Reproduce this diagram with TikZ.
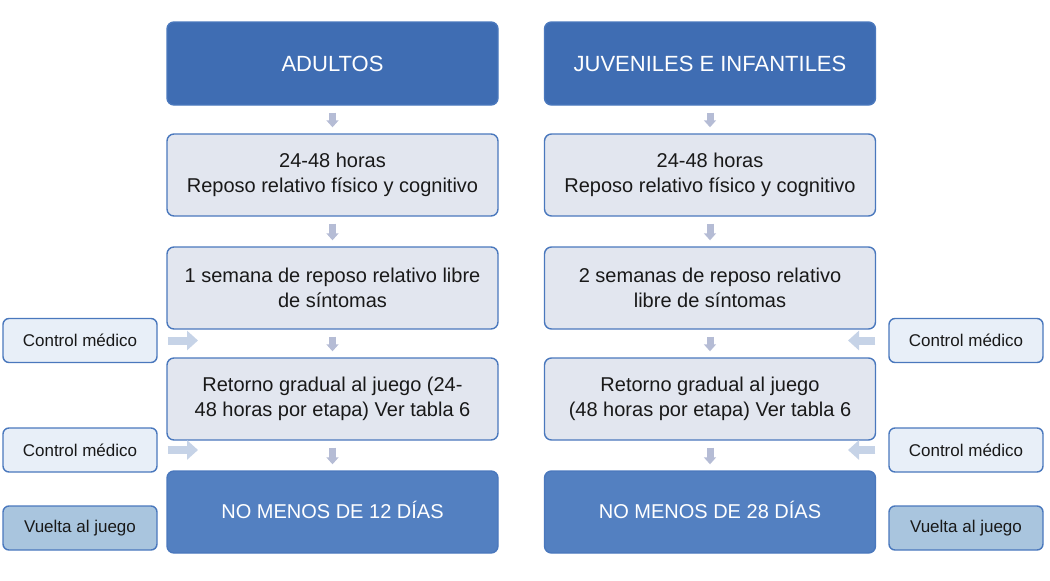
\documentclass[tikz,border=0pt]{standalone}
\usepackage{fontspec}
\setmainfont{Liberation Sans}
\usetikzlibrary{arrows.meta}

\definecolor{azulfuerte}{HTML}{3F6DB3}
\definecolor{azulfinal}{HTML}{5380C1}
\definecolor{bordeazul}{HTML}{4A78BD}
\definecolor{grisclaro}{HTML}{E2E6EF}
\definecolor{celeste}{HTML}{E8EFF8}
\definecolor{celestefuerte}{HTML}{A9C5DE}
\definecolor{flechagris}{HTML}{B5BCD5}
\definecolor{flechaceleste}{HTML}{C6D3E7}

\begin{document}
\begin{tikzpicture}[x=1pt, y=-1pt,
            % Estilo de las cajas de cabecera
            headbox/.style={draw=bordeazul, fill=azulfuerte, line width=1.4pt, rounded corners=7pt,
                minimum width=331pt, minimum height=83pt, text=white, font=\fontsize{22}{26}\selectfont},
            % Estilo de las etapas (gris claro)
            stepbox/.style={draw=bordeazul, fill=grisclaro, line width=1.4pt, rounded corners=7pt,
                minimum width=331pt, minimum height=82pt, align=center, text=black!90,
                font=\fontsize{20}{24.5}\selectfont},
            % Estilo de la caja final
            endbox/.style={draw=bordeazul, fill=azulfinal, line width=1.4pt, rounded corners=7pt,
                minimum width=331pt, minimum height=82pt, text=white, font=\fontsize{20}{24}\selectfont},
            % Estilo de las cajas laterales
            sidebox/.style={draw=bordeazul, fill=celeste, line width=1.4pt, rounded corners=6pt,
                minimum width=154pt, minimum height=44pt, text=black!90, font=\fontsize{17}{20}\selectfont},
            backbox/.style={sidebox, fill=celestefuerte},
            % Estilo de las flechas
            downarr/.style={-{Triangle[width=12pt,length=7pt]}, line width=7pt, draw=flechagris,
                shorten <=7pt, shorten >=6pt},
            sidearr/.style={-{Triangle[width=19pt,length=11pt]}, line width=8pt, draw=flechaceleste}
        ]
            \useasboundingbox (0,0) rectangle (1050,581);

            % --- 1. COLUMNA ADULTOS ---
            \node[headbox] (a0) at (332.5, 63.5) {ADULTOS};
            \node[stepbox] (a1) at (332.5, 175) {24-48 horas\\Reposo relativo físico y cognitivo};
            \node[stepbox] (a2) at (332.5, 288) {1 semana de reposo relativo libre\\de síntomas};
            \node[stepbox] (a3) at (332.5, 399) {Retorno gradual al juego (24-\\48 horas por etapa) Ver tabla 6};
            \node[endbox] (a4) at (332.5, 512) {\raisebox{5pt}{NO MENOS DE 12 DÍAS}};

            % --- 2. COLUMNA JUVENILES E INFANTILES ---
            \node[headbox] (j0) at (710, 63.5) {JUVENILES E INFANTILES};
            \node[stepbox] (j1) at (710, 175) {24-48 horas\\Reposo relativo físico y cognitivo};
            \node[stepbox] (j2) at (710, 288) {2 semanas de reposo relativo\\libre de síntomas};
            \node[stepbox] (j3) at (710, 399) {Retorno gradual al juego\\(48 horas por etapa) Ver tabla 6};
            \node[endbox] (j4) at (710, 512) {\raisebox{5pt}{NO MENOS DE 28 DÍAS}};

            % --- 3. CAJAS LATERALES ---
            \node[sidebox] (ca1) at (80, 340.5) {Control médico};
            \node[sidebox] (ca2) at (80, 450) {Control médico};
            \node[backbox] (va) at (80, 528) {Vuelta al juego};

            \node[sidebox] (cj1) at (966, 340.5) {Control médico};
            \node[sidebox] (cj2) at (966, 450) {Control médico};
            \node[backbox] (vj) at (966, 528) {Vuelta al juego};

            % --- 4. FLECHAS HACIA ABAJO ---
            \foreach \c in {a,j} {
                \draw[downarr] (\c0) -- (\c1);
                \draw[downarr] (\c1) -- (\c2);
                \draw[downarr] (\c2) -- (\c3);
                \draw[downarr] (\c3) -- (\c4);
            }

            % --- 5. FLECHAS LATERALES ---
            \coordinate (pa1) at (198, 340.5);
            \coordinate (pa2) at (198, 450);
            \coordinate (pj1) at (848, 340.5);
            \coordinate (pj2) at (848, 450);
            \draw[sidearr, shorten <=10pt] (ca1) -- (pa1);
            \draw[sidearr, shorten <=10pt] (ca2) -- (pa2);
            \draw[sidearr, shorten <=13pt] (cj1) -- (pj1);
            \draw[sidearr, shorten <=13pt] (cj2) -- (pj2);

        \end{tikzpicture}
\end{document}
